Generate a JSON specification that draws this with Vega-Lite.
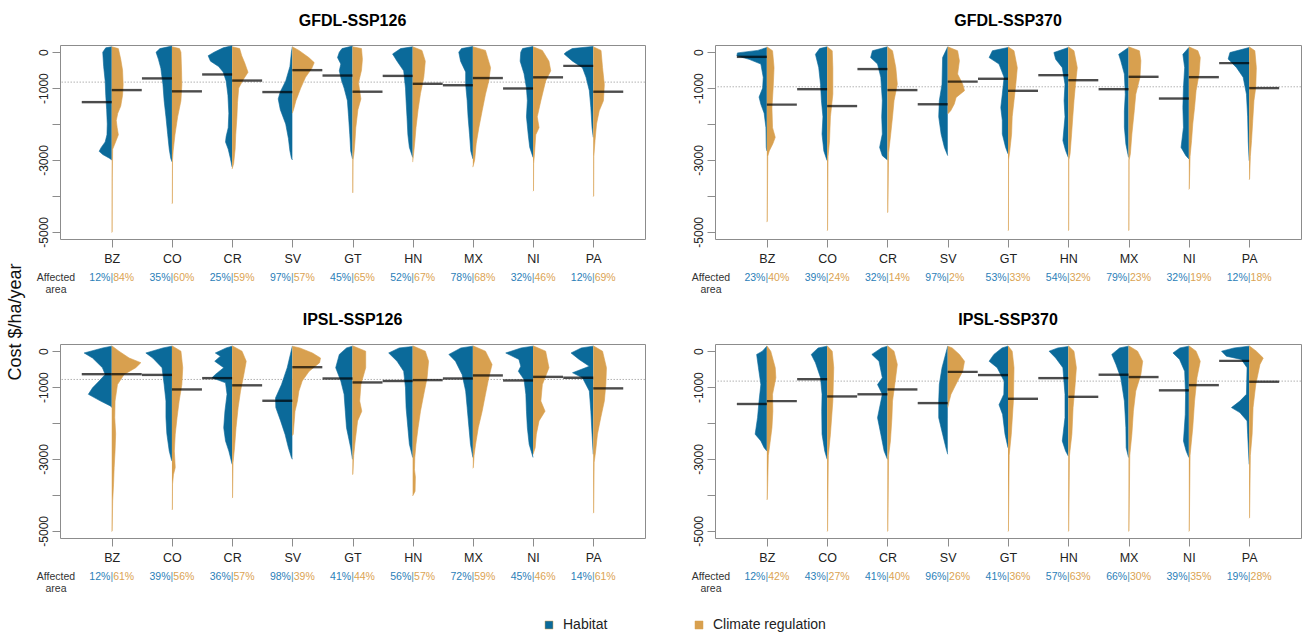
{
"$schema": "https://vega.github.io/schema/vega-lite/v6.json",
"padding": {"left": 7, "top": 12, "right": 0, "bottom": 0},
"config": {
 "font": "Liberation Sans",
 "view": {"stroke": "#8c8c8c", "strokeWidth": 1},
 "axis": {"grid": false, "domain": false},
 "axisX": {"labelFontSize": 12.5, "labelColor": "#222", "ticks": true, "tickSize": 8, "tickColor": "#8c8c8c", "labelPadding": 5, "labelAngle": 0},
 "axisY": {"labelFontSize": 12, "labelColor": "#222", "tickSize": 8, "tickColor": "#8c8c8c", "labelOverlap": false},
 "title": {"fontSize": 16, "fontWeight": "bold", "offset": 16, "color": "#000", "anchor": "middle"}
},
"title": {"text": "Cost $/ha/year", "orient": "left", "anchor": "middle", "fontSize": 18, "fontWeight": "normal", "offset": 11, "color": "#111"},
"datasets": {
"ref": [{"p":"GFDL-SSP126","y":-833},{"p":"GFDL-SSP370","y":-963},{"p":"IPSL-SSP126","y":-787},{"p":"IPSL-SSP370","y":-833}],
"med": [
{"p":"GFDL-SSP126","c":"BZ","h":-1390,"cl":-1055},{"p":"GFDL-SSP126","c":"CO","h":-730,"cl":-1090},{"p":"GFDL-SSP126","c":"CR","h":-620,"cl":-790},{"p":"GFDL-SSP126","c":"SV","h":-1110,"cl":-500},{"p":"GFDL-SSP126","c":"GT","h":-650,"cl":-1100},{"p":"GFDL-SSP126","c":"HN","h":-660,"cl":-880},{"p":"GFDL-SSP126","c":"MX","h":-920,"cl":-720},{"p":"GFDL-SSP126","c":"NI","h":-1010,"cl":-700},{"p":"GFDL-SSP126","c":"PA","h":-380,"cl":-1100},
{"p":"GFDL-SSP370","c":"BZ","h":-130,"cl":-1460},{"p":"GFDL-SSP370","c":"CO","h":-1030,"cl":-1500},{"p":"GFDL-SSP370","c":"CR","h":-470,"cl":-1055},{"p":"GFDL-SSP370","c":"SV","h":-1450,"cl":-820},{"p":"GFDL-SSP370","c":"GT","h":-740,"cl":-1075},{"p":"GFDL-SSP370","c":"HN","h":-640,"cl":-780},{"p":"GFDL-SSP370","c":"MX","h":-1030,"cl":-685},{"p":"GFDL-SSP370","c":"NI","h":-1290,"cl":-695},{"p":"GFDL-SSP370","c":"PA","h":-305,"cl":-1000},
{"p":"IPSL-SSP126","c":"BZ","h":-640,"cl":-640},{"p":"IPSL-SSP126","c":"CO","h":-660,"cl":-1065},{"p":"IPSL-SSP126","c":"CR","h":-750,"cl":-950},{"p":"IPSL-SSP126","c":"SV","h":-1380,"cl":-445},{"p":"IPSL-SSP126","c":"GT","h":-760,"cl":-870},{"p":"IPSL-SSP126","c":"HN","h":-830,"cl":-805},{"p":"IPSL-SSP126","c":"MX","h":-760,"cl":-675},{"p":"IPSL-SSP126","c":"NI","h":-815,"cl":-715},{"p":"IPSL-SSP126","c":"PA","h":-740,"cl":-1035},
{"p":"IPSL-SSP370","c":"BZ","h":-1470,"cl":-1390},{"p":"IPSL-SSP370","c":"CO","h":-780,"cl":-1260},{"p":"IPSL-SSP370","c":"CR","h":-1200,"cl":-1065},{"p":"IPSL-SSP370","c":"SV","h":-1445,"cl":-575},{"p":"IPSL-SSP370","c":"GT","h":-665,"cl":-1325},{"p":"IPSL-SSP370","c":"HN","h":-750,"cl":-1270},{"p":"IPSL-SSP370","c":"MX","h":-655,"cl":-720},{"p":"IPSL-SSP370","c":"NI","h":-1090,"cl":-945},{"p":"IPSL-SSP370","c":"PA","h":-270,"cl":-850}
],
"aff": [
{"p":"GFDL-SSP126","c":"BZ","h":"12%","cl":"84%"},{"p":"GFDL-SSP126","c":"CO","h":"35%","cl":"60%"},{"p":"GFDL-SSP126","c":"CR","h":"25%","cl":"59%"},{"p":"GFDL-SSP126","c":"SV","h":"97%","cl":"57%"},{"p":"GFDL-SSP126","c":"GT","h":"45%","cl":"65%"},{"p":"GFDL-SSP126","c":"HN","h":"52%","cl":"67%"},{"p":"GFDL-SSP126","c":"MX","h":"78%","cl":"68%"},{"p":"GFDL-SSP126","c":"NI","h":"32%","cl":"46%"},{"p":"GFDL-SSP126","c":"PA","h":"12%","cl":"69%"},
{"p":"GFDL-SSP370","c":"BZ","h":"23%","cl":"40%"},{"p":"GFDL-SSP370","c":"CO","h":"39%","cl":"24%"},{"p":"GFDL-SSP370","c":"CR","h":"32%","cl":"14%"},{"p":"GFDL-SSP370","c":"SV","h":"97%","cl":"2%"},{"p":"GFDL-SSP370","c":"GT","h":"53%","cl":"33%"},{"p":"GFDL-SSP370","c":"HN","h":"54%","cl":"32%"},{"p":"GFDL-SSP370","c":"MX","h":"79%","cl":"23%"},{"p":"GFDL-SSP370","c":"NI","h":"32%","cl":"19%"},{"p":"GFDL-SSP370","c":"PA","h":"12%","cl":"18%"},
{"p":"IPSL-SSP126","c":"BZ","h":"12%","cl":"61%"},{"p":"IPSL-SSP126","c":"CO","h":"39%","cl":"56%"},{"p":"IPSL-SSP126","c":"CR","h":"36%","cl":"57%"},{"p":"IPSL-SSP126","c":"SV","h":"98%","cl":"39%"},{"p":"IPSL-SSP126","c":"GT","h":"41%","cl":"44%"},{"p":"IPSL-SSP126","c":"HN","h":"56%","cl":"57%"},{"p":"IPSL-SSP126","c":"MX","h":"72%","cl":"59%"},{"p":"IPSL-SSP126","c":"NI","h":"45%","cl":"46%"},{"p":"IPSL-SSP126","c":"PA","h":"14%","cl":"61%"},
{"p":"IPSL-SSP370","c":"BZ","h":"12%","cl":"42%"},{"p":"IPSL-SSP370","c":"CO","h":"43%","cl":"27%"},{"p":"IPSL-SSP370","c":"CR","h":"41%","cl":"40%"},{"p":"IPSL-SSP370","c":"SV","h":"96%","cl":"26%"},{"p":"IPSL-SSP370","c":"GT","h":"41%","cl":"36%"},{"p":"IPSL-SSP370","c":"HN","h":"57%","cl":"63%"},{"p":"IPSL-SSP370","c":"MX","h":"66%","cl":"30%"},{"p":"IPSL-SSP370","c":"NI","h":"39%","cl":"35%"},{"p":"IPSL-SSP370","c":"PA","h":"19%","cl":"28%"}
],
"g126h": [
{"c":"BZ","y":150,"w":0},{"c":"BZ","y":120,"w":0.2},{"c":"BZ","y":0,"w":0.3},{"c":"BZ","y":-400,"w":0.27},{"c":"BZ","y":-800,"w":0.22},{"c":"BZ","y":-1200,"w":0.2},{"c":"BZ","y":-1600,"w":0.17},{"c":"BZ","y":-2000,"w":0.15},{"c":"BZ","y":-2300,"w":0.16},{"c":"BZ","y":-2500,"w":0.22},{"c":"BZ","y":-2650,"w":0.35},{"c":"BZ","y":-2760,"w":0.42},{"c":"BZ","y":-2850,"w":0.3},{"c":"BZ","y":-2950,"w":0.08},{"c":"BZ","y":-3000,"w":0},
{"c":"CO","y":170,"w":0},{"c":"CO","y":100,"w":0.4},{"c":"CO","y":0,"w":0.53},{"c":"CO","y":-200,"w":0.45},{"c":"CO","y":-450,"w":0.37},{"c":"CO","y":-900,"w":0.3},{"c":"CO","y":-1350,"w":0.26},{"c":"CO","y":-1800,"w":0.2},{"c":"CO","y":-2300,"w":0.14},{"c":"CO","y":-2700,"w":0.09},{"c":"CO","y":-2950,"w":0.04},{"c":"CO","y":-3050,"w":0},
{"c":"CR","y":180,"w":0},{"c":"CR","y":120,"w":0.3},{"c":"CR","y":0,"w":0.6},{"c":"CR","y":-100,"w":0.8},{"c":"CR","y":-250,"w":0.72},{"c":"CR","y":-400,"w":0.45},{"c":"CR","y":-550,"w":0.3},{"c":"CR","y":-800,"w":0.2},{"c":"CR","y":-1200,"w":0.14},{"c":"CR","y":-1700,"w":0.11},{"c":"CR","y":-2100,"w":0.13},{"c":"CR","y":-2350,"w":0.2},{"c":"CR","y":-2500,"w":0.22},{"c":"CR","y":-2700,"w":0.13},{"c":"CR","y":-2950,"w":0.06},{"c":"CR","y":-3200,"w":0},
{"c":"SV","y":150,"w":0},{"c":"SV","y":0,"w":0.03},{"c":"SV","y":-400,"w":0.08},{"c":"SV","y":-800,"w":0.22},{"c":"SV","y":-1100,"w":0.4},{"c":"SV","y":-1300,"w":0.47},{"c":"SV","y":-1600,"w":0.4},{"c":"SV","y":-2000,"w":0.22},{"c":"SV","y":-2400,"w":0.13},{"c":"SV","y":-2750,"w":0.08},{"c":"SV","y":-2950,"w":0.03},{"c":"SV","y":-3000,"w":0},
{"c":"GT","y":170,"w":0},{"c":"GT","y":100,"w":0.35},{"c":"GT","y":0,"w":0.44},{"c":"GT","y":-150,"w":0.5},{"c":"GT","y":-330,"w":0.39},{"c":"GT","y":-520,"w":0.44},{"c":"GT","y":-800,"w":0.36},{"c":"GT","y":-1000,"w":0.28},{"c":"GT","y":-1350,"w":0.17},{"c":"GT","y":-1800,"w":0.13},{"c":"GT","y":-2300,"w":0.09},{"c":"GT","y":-2750,"w":0.06},{"c":"GT","y":-2970,"w":0},
{"c":"HN","y":150,"w":0},{"c":"HN","y":100,"w":0.4},{"c":"HN","y":-50,"w":0.67},{"c":"HN","y":-250,"w":0.52},{"c":"HN","y":-520,"w":0.3},{"c":"HN","y":-1000,"w":0.24},{"c":"HN","y":-1350,"w":0.22},{"c":"HN","y":-1800,"w":0.19},{"c":"HN","y":-2300,"w":0.16},{"c":"HN","y":-2650,"w":0.11},{"c":"HN","y":-2930,"w":0},
{"c":"MX","y":160,"w":0},{"c":"MX","y":100,"w":0.38},{"c":"MX","y":0,"w":0.47},{"c":"MX","y":-250,"w":0.41},{"c":"MX","y":-550,"w":0.24},{"c":"MX","y":-900,"w":0.24},{"c":"MX","y":-1350,"w":0.19},{"c":"MX","y":-1800,"w":0.16},{"c":"MX","y":-2300,"w":0.11},{"c":"MX","y":-2750,"w":0.07},{"c":"MX","y":-2970,"w":0},
{"c":"NI","y":160,"w":0},{"c":"NI","y":100,"w":0.35},{"c":"NI","y":0,"w":0.41},{"c":"NI","y":-250,"w":0.43},{"c":"NI","y":-600,"w":0.3},{"c":"NI","y":-1000,"w":0.22},{"c":"NI","y":-1350,"w":0.19},{"c":"NI","y":-1800,"w":0.22},{"c":"NI","y":-2300,"w":0.16},{"c":"NI","y":-2650,"w":0.11},{"c":"NI","y":-2930,"w":0},
{"c":"PA","y":160,"w":0},{"c":"PA","y":100,"w":0.7},{"c":"PA","y":0,"w":0.91},{"c":"PA","y":-50,"w":0.97},{"c":"PA","y":-250,"w":0.69},{"c":"PA","y":-430,"w":0.36},{"c":"PA","y":-700,"w":0.24},{"c":"PA","y":-1070,"w":0.13},{"c":"PA","y":-1540,"w":0.08},{"c":"PA","y":-2100,"w":0.04},{"c":"PA","y":-2370,"w":0}
],
"g126c": [
{"c":"BZ","y":150,"w":0},{"c":"BZ","y":100,"w":0.22},{"c":"BZ","y":-200,"w":0.3},{"c":"BZ","y":-500,"w":0.36},{"c":"BZ","y":-900,"w":0.38},{"c":"BZ","y":-1200,"w":0.36},{"c":"BZ","y":-1500,"w":0.3},{"c":"BZ","y":-1700,"w":0.2},{"c":"BZ","y":-1900,"w":0.15},{"c":"BZ","y":-2100,"w":0.18},{"c":"BZ","y":-2300,"w":0.22},{"c":"BZ","y":-2450,"w":0.15},{"c":"BZ","y":-2600,"w":0.08},{"c":"BZ","y":-2700,"w":0.03},{"c":"BZ","y":-3500,"w":0.02},{"c":"BZ","y":-5000,"w":0.015},{"c":"BZ","y":-5020,"w":0},
{"c":"CO","y":150,"w":0},{"c":"CO","y":100,"w":0.25},{"c":"CO","y":0,"w":0.3},{"c":"CO","y":-500,"w":0.32},{"c":"CO","y":-900,"w":0.33},{"c":"CO","y":-1350,"w":0.3},{"c":"CO","y":-1800,"w":0.19},{"c":"CO","y":-2300,"w":0.1},{"c":"CO","y":-2750,"w":0.04},{"c":"CO","y":-3000,"w":0.02},{"c":"CO","y":-4200,"w":0.015},{"c":"CO","y":-4220,"w":0},
{"c":"CR","y":150,"w":0},{"c":"CR","y":100,"w":0.25},{"c":"CR","y":-100,"w":0.32},{"c":"CR","y":-300,"w":0.42},{"c":"CR","y":-560,"w":0.53},{"c":"CR","y":-750,"w":0.38},{"c":"CR","y":-1000,"w":0.22},{"c":"CR","y":-1400,"w":0.18},{"c":"CR","y":-1800,"w":0.16},{"c":"CR","y":-2300,"w":0.12},{"c":"CR","y":-2700,"w":0.1},{"c":"CR","y":-3100,"w":0.05},{"c":"CR","y":-3250,"w":0},
{"c":"SV","y":150,"w":0},{"c":"SV","y":50,"w":0.22},{"c":"SV","y":-150,"w":0.55},{"c":"SV","y":-290,"w":0.73},{"c":"SV","y":-450,"w":0.65},{"c":"SV","y":-700,"w":0.44},{"c":"SV","y":-1000,"w":0.28},{"c":"SV","y":-1350,"w":0.12},{"c":"SV","y":-1600,"w":0.04},{"c":"SV","y":-1700,"w":0},
{"c":"GT","y":150,"w":0},{"c":"GT","y":100,"w":0.3},{"c":"GT","y":-200,"w":0.33},{"c":"GT","y":-500,"w":0.3},{"c":"GT","y":-850,"w":0.2},{"c":"GT","y":-1300,"w":0.28},{"c":"GT","y":-1600,"w":0.18},{"c":"GT","y":-2100,"w":0.11},{"c":"GT","y":-2500,"w":0.08},{"c":"GT","y":-2800,"w":0.05},{"c":"GT","y":-3000,"w":0.02},{"c":"GT","y":-3900,"w":0.015},{"c":"GT","y":-3920,"w":0},
{"c":"HN","y":150,"w":0},{"c":"HN","y":50,"w":0.31},{"c":"HN","y":-250,"w":0.42},{"c":"HN","y":-700,"w":0.37},{"c":"HN","y":-1150,"w":0.26},{"c":"HN","y":-1600,"w":0.18},{"c":"HN","y":-2100,"w":0.11},{"c":"HN","y":-2500,"w":0.07},{"c":"HN","y":-2750,"w":0.04},{"c":"HN","y":-3060,"w":0},
{"c":"MX","y":150,"w":0},{"c":"MX","y":50,"w":0.42},{"c":"MX","y":-430,"w":0.59},{"c":"MX","y":-800,"w":0.53},{"c":"MX","y":-1170,"w":0.42},{"c":"MX","y":-1630,"w":0.31},{"c":"MX","y":-2100,"w":0.2},{"c":"MX","y":-2550,"w":0.11},{"c":"MX","y":-3000,"w":0.06},{"c":"MX","y":-3200,"w":0},
{"c":"NI","y":150,"w":0},{"c":"NI","y":50,"w":0.31},{"c":"NI","y":-250,"w":0.53},{"c":"NI","y":-520,"w":0.59},{"c":"NI","y":-800,"w":0.42},{"c":"NI","y":-1350,"w":0.26},{"c":"NI","y":-1800,"w":0.14},{"c":"NI","y":-2100,"w":0.2},{"c":"NI","y":-2300,"w":0.09},{"c":"NI","y":-2800,"w":0.05},{"c":"NI","y":-3100,"w":0.02},{"c":"NI","y":-3850,"w":0.015},{"c":"NI","y":-3870,"w":0},
{"c":"PA","y":150,"w":0},{"c":"PA","y":50,"w":0.26},{"c":"PA","y":-430,"w":0.31},{"c":"PA","y":-900,"w":0.37},{"c":"PA","y":-1350,"w":0.34},{"c":"PA","y":-1630,"w":0.2},{"c":"PA","y":-2000,"w":0.11},{"c":"PA","y":-2450,"w":0.06},{"c":"PA","y":-2900,"w":0.02},{"c":"PA","y":-4000,"w":0.015},{"c":"PA","y":-4020,"w":0}
],
"g370h": [
{"c":"BZ","y":130,"w":0},{"c":"BZ","y":50,"w":0.3},{"c":"BZ","y":-20,"w":0.98},{"c":"BZ","y":-100,"w":1.0},{"c":"BZ","y":-200,"w":0.59},{"c":"BZ","y":-330,"w":0.2},{"c":"BZ","y":-700,"w":0.12},{"c":"BZ","y":-1000,"w":0.14},{"c":"BZ","y":-1250,"w":0.26},{"c":"BZ","y":-1450,"w":0.2},{"c":"BZ","y":-1700,"w":0.09},{"c":"BZ","y":-2100,"w":0.03},{"c":"BZ","y":-2650,"w":0.02},{"c":"BZ","y":-2750,"w":0},
{"c":"CO","y":150,"w":0},{"c":"CO","y":100,"w":0.25},{"c":"CO","y":-60,"w":0.39},{"c":"CO","y":-430,"w":0.28},{"c":"CO","y":-900,"w":0.22},{"c":"CO","y":-1350,"w":0.19},{"c":"CO","y":-1800,"w":0.14},{"c":"CO","y":-2280,"w":0.17},{"c":"CO","y":-2750,"w":0.11},{"c":"CO","y":-2950,"w":0.03},{"c":"CO","y":-3020,"w":0},
{"c":"CR","y":150,"w":0},{"c":"CR","y":40,"w":0.5},{"c":"CR","y":-150,"w":0.56},{"c":"CR","y":-330,"w":0.33},{"c":"CR","y":-700,"w":0.22},{"c":"CR","y":-1350,"w":0.17},{"c":"CR","y":-1800,"w":0.19},{"c":"CR","y":-2280,"w":0.17},{"c":"CR","y":-2650,"w":0.26},{"c":"CR","y":-2880,"w":0.17},{"c":"CR","y":-3000,"w":0},
{"c":"SV","y":150,"w":0},{"c":"SV","y":-150,"w":0.17},{"c":"SV","y":-890,"w":0.19},{"c":"SV","y":-1350,"w":0.28},{"c":"SV","y":-1800,"w":0.3},{"c":"SV","y":-2280,"w":0.22},{"c":"SV","y":-2650,"w":0.11},{"c":"SV","y":-2880,"w":0},
{"c":"GT","y":130,"w":0},{"c":"GT","y":40,"w":0.52},{"c":"GT","y":-150,"w":0.63},{"c":"GT","y":-330,"w":0.3},{"c":"GT","y":-700,"w":0.13},{"c":"GT","y":-1170,"w":0.19},{"c":"GT","y":-1540,"w":0.24},{"c":"GT","y":-1900,"w":0.19},{"c":"GT","y":-2280,"w":0.19},{"c":"GT","y":-2650,"w":0.08},{"c":"GT","y":-2830,"w":0},
{"c":"HN","y":130,"w":0},{"c":"HN","y":-10,"w":0.48},{"c":"HN","y":-200,"w":0.42},{"c":"HN","y":-430,"w":0.2},{"c":"HN","y":-890,"w":0.11},{"c":"HN","y":-1350,"w":0.14},{"c":"HN","y":-1800,"w":0.11},{"c":"HN","y":-2460,"w":0.18},{"c":"HN","y":-2740,"w":0.09},{"c":"HN","y":-2930,"w":0},
{"c":"MX","y":130,"w":0},{"c":"MX","y":-60,"w":0.33},{"c":"MX","y":-240,"w":0.26},{"c":"MX","y":-610,"w":0.14},{"c":"MX","y":-1170,"w":0.11},{"c":"MX","y":-1630,"w":0.14},{"c":"MX","y":-2090,"w":0.14},{"c":"MX","y":-2560,"w":0.09},{"c":"MX","y":-2930,"w":0},
{"c":"NI","y":130,"w":0},{"c":"NI","y":-60,"w":0.2},{"c":"NI","y":-430,"w":0.14},{"c":"NI","y":-980,"w":0.18},{"c":"NI","y":-1540,"w":0.2},{"c":"NI","y":-2090,"w":0.18},{"c":"NI","y":-2650,"w":0.26},{"c":"NI","y":-2880,"w":0.1},{"c":"NI","y":-2970,"w":0},
{"c":"PA","y":130,"w":0},{"c":"PA","y":-10,"w":0.64},{"c":"PA","y":-190,"w":0.7},{"c":"PA","y":-430,"w":0.42},{"c":"PA","y":-700,"w":0.2},{"c":"PA","y":-1170,"w":0.09},{"c":"PA","y":-1800,"w":0.05},{"c":"PA","y":-2500,"w":0.03},{"c":"PA","y":-3020,"w":0}
],
"g370c": [
{"c":"BZ","y":150,"w":0},{"c":"BZ","y":40,"w":0.19},{"c":"BZ","y":-430,"w":0.24},{"c":"BZ","y":-1000,"w":0.21},{"c":"BZ","y":-1550,"w":0.17},{"c":"BZ","y":-2100,"w":0.19},{"c":"BZ","y":-2370,"w":0.28},{"c":"BZ","y":-2550,"w":0.2},{"c":"BZ","y":-2750,"w":0.08},{"c":"BZ","y":-2900,"w":0.03},{"c":"BZ","y":-4700,"w":0.015},{"c":"BZ","y":-4730,"w":0},
{"c":"CO","y":150,"w":0},{"c":"CO","y":40,"w":0.17},{"c":"CO","y":-430,"w":0.19},{"c":"CO","y":-1170,"w":0.19},{"c":"CO","y":-1800,"w":0.11},{"c":"CO","y":-2460,"w":0.08},{"c":"CO","y":-2900,"w":0.03},{"c":"CO","y":-4950,"w":0.015},{"c":"CO","y":-4970,"w":0},
{"c":"CR","y":150,"w":0},{"c":"CR","y":40,"w":0.17},{"c":"CR","y":-430,"w":0.28},{"c":"CR","y":-890,"w":0.33},{"c":"CR","y":-1350,"w":0.22},{"c":"CR","y":-1800,"w":0.17},{"c":"CR","y":-2280,"w":0.11},{"c":"CR","y":-2800,"w":0.04},{"c":"CR","y":-4450,"w":0.015},{"c":"CR","y":-4470,"w":0},
{"c":"SV","y":150,"w":0},{"c":"SV","y":40,"w":0.33},{"c":"SV","y":-240,"w":0.39},{"c":"SV","y":-610,"w":0.33},{"c":"SV","y":-890,"w":0.5},{"c":"SV","y":-1070,"w":0.56},{"c":"SV","y":-1260,"w":0.28},{"c":"SV","y":-1440,"w":0.22},{"c":"SV","y":-1630,"w":0.1},{"c":"SV","y":-1720,"w":0},
{"c":"GT","y":150,"w":0},{"c":"GT","y":40,"w":0.2},{"c":"GT","y":-430,"w":0.31},{"c":"GT","y":-890,"w":0.26},{"c":"GT","y":-1350,"w":0.2},{"c":"GT","y":-1800,"w":0.14},{"c":"GT","y":-2280,"w":0.12},{"c":"GT","y":-2740,"w":0.06},{"c":"GT","y":-3000,"w":0.02},{"c":"GT","y":-4950,"w":0.015},{"c":"GT","y":-4970,"w":0},
{"c":"HN","y":150,"w":0},{"c":"HN","y":40,"w":0.19},{"c":"HN","y":-430,"w":0.3},{"c":"HN","y":-890,"w":0.24},{"c":"HN","y":-1350,"w":0.19},{"c":"HN","y":-1800,"w":0.15},{"c":"HN","y":-2280,"w":0.11},{"c":"HN","y":-2830,"w":0.06},{"c":"HN","y":-3000,"w":0.02},{"c":"HN","y":-4950,"w":0.015},{"c":"HN","y":-4970,"w":0},
{"c":"MX","y":150,"w":0},{"c":"MX","y":40,"w":0.36},{"c":"MX","y":-240,"w":0.41},{"c":"MX","y":-700,"w":0.38},{"c":"MX","y":-1170,"w":0.24},{"c":"MX","y":-1630,"w":0.19},{"c":"MX","y":-2280,"w":0.11},{"c":"MX","y":-2830,"w":0.06},{"c":"MX","y":-3000,"w":0.02},{"c":"MX","y":-4950,"w":0.015},{"c":"MX","y":-4970,"w":0},
{"c":"NI","y":150,"w":0},{"c":"NI","y":40,"w":0.3},{"c":"NI","y":-150,"w":0.38},{"c":"NI","y":-610,"w":0.34},{"c":"NI","y":-1070,"w":0.24},{"c":"NI","y":-1540,"w":0.19},{"c":"NI","y":-2000,"w":0.13},{"c":"NI","y":-2460,"w":0.09},{"c":"NI","y":-2900,"w":0.04},{"c":"NI","y":-3800,"w":0.015},{"c":"NI","y":-3820,"w":0},
{"c":"PA","y":150,"w":0},{"c":"PA","y":40,"w":0.19},{"c":"PA","y":-430,"w":0.24},{"c":"PA","y":-980,"w":0.22},{"c":"PA","y":-1350,"w":0.16},{"c":"PA","y":-1900,"w":0.12},{"c":"PA","y":-2460,"w":0.08},{"c":"PA","y":-2900,"w":0.04},{"c":"PA","y":-3530,"w":0.015},{"c":"PA","y":-3550,"w":0}
],
"i126h": [
{"c":"BZ","y":140,"w":0},{"c":"BZ","y":90,"w":0.3},{"c":"BZ","y":-50,"w":0.92},{"c":"BZ","y":-190,"w":0.64},{"c":"BZ","y":-460,"w":0.31},{"c":"BZ","y":-650,"w":0.22},{"c":"BZ","y":-830,"w":0.42},{"c":"BZ","y":-1020,"w":0.64},{"c":"BZ","y":-1200,"w":0.78},{"c":"BZ","y":-1390,"w":0.37},{"c":"BZ","y":-1530,"w":0.03},{"c":"BZ","y":-1570,"w":0},
{"c":"CO","y":140,"w":0},{"c":"CO","y":90,"w":0.3},{"c":"CO","y":-50,"w":0.87},{"c":"CO","y":-190,"w":0.64},{"c":"CO","y":-460,"w":0.33},{"c":"CO","y":-930,"w":0.26},{"c":"CO","y":-1390,"w":0.2},{"c":"CO","y":-1850,"w":0.2},{"c":"CO","y":-2300,"w":0.17},{"c":"CO","y":-2780,"w":0.09},{"c":"CO","y":-3010,"w":0.02},{"c":"CO","y":-3060,"w":0},
{"c":"CR","y":140,"w":0},{"c":"CR","y":90,"w":0.2},{"c":"CR","y":-50,"w":0.56},{"c":"CR","y":-140,"w":0.39},{"c":"CR","y":-280,"w":0.58},{"c":"CR","y":-460,"w":0.28},{"c":"CR","y":-650,"w":0.56},{"c":"CR","y":-740,"w":0.67},{"c":"CR","y":-880,"w":0.22},{"c":"CR","y":-1200,"w":0.17},{"c":"CR","y":-1670,"w":0.24},{"c":"CR","y":-2130,"w":0.28},{"c":"CR","y":-2500,"w":0.22},{"c":"CR","y":-2780,"w":0.11},{"c":"CR","y":-3150,"w":0},
{"c":"SV","y":140,"w":0},{"c":"SV","y":-460,"w":0.17},{"c":"SV","y":-930,"w":0.36},{"c":"SV","y":-1300,"w":0.56},{"c":"SV","y":-1570,"w":0.55},{"c":"SV","y":-1940,"w":0.39},{"c":"SV","y":-2320,"w":0.24},{"c":"SV","y":-2690,"w":0.13},{"c":"SV","y":-2960,"w":0.03},{"c":"SV","y":-3010,"w":0},
{"c":"GT","y":140,"w":0},{"c":"GT","y":90,"w":0.2},{"c":"GT","y":-90,"w":0.44},{"c":"GT","y":-460,"w":0.56},{"c":"GT","y":-830,"w":0.39},{"c":"GT","y":-1200,"w":0.28},{"c":"GT","y":-1670,"w":0.24},{"c":"GT","y":-2130,"w":0.2},{"c":"GT","y":-2690,"w":0.06},{"c":"GT","y":-3010,"w":0},
{"c":"HN","y":130,"w":0},{"c":"HN","y":90,"w":0.45},{"c":"HN","y":-50,"w":0.8},{"c":"HN","y":-280,"w":0.52},{"c":"HN","y":-560,"w":0.3},{"c":"HN","y":-1020,"w":0.24},{"c":"HN","y":-1570,"w":0.22},{"c":"HN","y":-2130,"w":0.16},{"c":"HN","y":-2590,"w":0.11},{"c":"HN","y":-2960,"w":0},
{"c":"MX","y":140,"w":0},{"c":"MX","y":90,"w":0.4},{"c":"MX","y":-90,"w":0.8},{"c":"MX","y":-280,"w":0.58},{"c":"MX","y":-650,"w":0.36},{"c":"MX","y":-1110,"w":0.24},{"c":"MX","y":-1570,"w":0.19},{"c":"MX","y":-2130,"w":0.13},{"c":"MX","y":-2590,"w":0.08},{"c":"MX","y":-2960,"w":0},
{"c":"NI","y":140,"w":0},{"c":"NI","y":90,"w":0.4},{"c":"NI","y":-50,"w":0.91},{"c":"NI","y":-230,"w":0.47},{"c":"NI","y":-420,"w":0.41},{"c":"NI","y":-560,"w":0.49},{"c":"NI","y":-790,"w":0.3},{"c":"NI","y":-1200,"w":0.24},{"c":"NI","y":-1670,"w":0.22},{"c":"NI","y":-2130,"w":0.19},{"c":"NI","y":-2590,"w":0.13},{"c":"NI","y":-2960,"w":0},
{"c":"PA","y":140,"w":0},{"c":"PA","y":90,"w":0.4},{"c":"PA","y":-50,"w":0.74},{"c":"PA","y":-230,"w":0.47},{"c":"PA","y":-420,"w":0.13},{"c":"PA","y":-600,"w":0.69},{"c":"PA","y":-740,"w":0.36},{"c":"PA","y":-1110,"w":0.13},{"c":"PA","y":-1670,"w":0.08},{"c":"PA","y":-2310,"w":0.04},{"c":"PA","y":-2870,"w":0}
],
"i126c": [
{"c":"BZ","y":150,"w":0},{"c":"BZ","y":0,"w":0.24},{"c":"BZ","y":-190,"w":0.58},{"c":"BZ","y":-320,"w":0.97},{"c":"BZ","y":-460,"w":0.8},{"c":"BZ","y":-650,"w":0.41},{"c":"BZ","y":-930,"w":0.19},{"c":"BZ","y":-1390,"w":0.11},{"c":"BZ","y":-1850,"w":0.1},{"c":"BZ","y":-2300,"w":0.13},{"c":"BZ","y":-2780,"w":0.11},{"c":"BZ","y":-3240,"w":0.08},{"c":"BZ","y":-3700,"w":0.06},{"c":"BZ","y":-4170,"w":0.03},{"c":"BZ","y":-5000,"w":0.015},{"c":"BZ","y":-5020,"w":0},
{"c":"CO","y":150,"w":0},{"c":"CO","y":0,"w":0.3},{"c":"CO","y":-460,"w":0.36},{"c":"CO","y":-930,"w":0.33},{"c":"CO","y":-1390,"w":0.24},{"c":"CO","y":-1850,"w":0.17},{"c":"CO","y":-2310,"w":0.11},{"c":"CO","y":-2780,"w":0.08},{"c":"CO","y":-3240,"w":0.11},{"c":"CO","y":-3440,"w":0.05},{"c":"CO","y":-3700,"w":0.02},{"c":"CO","y":-4400,"w":0.015},{"c":"CO","y":-4420,"w":0},
{"c":"CR","y":150,"w":0},{"c":"CR","y":0,"w":0.33},{"c":"CR","y":-280,"w":0.47},{"c":"CR","y":-650,"w":0.39},{"c":"CR","y":-1110,"w":0.28},{"c":"CR","y":-1570,"w":0.2},{"c":"CR","y":-2130,"w":0.13},{"c":"CR","y":-2690,"w":0.08},{"c":"CR","y":-3100,"w":0.03},{"c":"CR","y":-4070,"w":0.015},{"c":"CR","y":-4090,"w":0},
{"c":"SV","y":140,"w":0},{"c":"SV","y":90,"w":0.25},{"c":"SV","y":-50,"w":0.67},{"c":"SV","y":-190,"w":0.94},{"c":"SV","y":-320,"w":0.91},{"c":"SV","y":-560,"w":0.56},{"c":"SV","y":-830,"w":0.33},{"c":"SV","y":-1110,"w":0.22},{"c":"SV","y":-1390,"w":0.17},{"c":"SV","y":-1670,"w":0.09},{"c":"SV","y":-2310,"w":0.03},{"c":"SV","y":-2350,"w":0},
{"c":"GT","y":150,"w":0},{"c":"GT","y":0,"w":0.44},{"c":"GT","y":-460,"w":0.44},{"c":"GT","y":-930,"w":0.28},{"c":"GT","y":-1390,"w":0.24},{"c":"GT","y":-1670,"w":0.31},{"c":"GT","y":-1940,"w":0.17},{"c":"GT","y":-2500,"w":0.09},{"c":"GT","y":-2900,"w":0.04},{"c":"GT","y":-3420,"w":0.015},{"c":"GT","y":-3440,"w":0},
{"c":"HN","y":150,"w":0},{"c":"HN","y":0,"w":0.42},{"c":"HN","y":-280,"w":0.53},{"c":"HN","y":-740,"w":0.48},{"c":"HN","y":-1200,"w":0.37},{"c":"HN","y":-1670,"w":0.26},{"c":"HN","y":-2130,"w":0.18},{"c":"HN","y":-2590,"w":0.11},{"c":"HN","y":-2960,"w":0.07},{"c":"HN","y":-3300,"w":0.06},{"c":"HN","y":-3500,"w":0.09},{"c":"HN","y":-3900,"w":0.08},{"c":"HN","y":-4030,"w":0},
{"c":"MX","y":150,"w":0},{"c":"MX","y":0,"w":0.42},{"c":"MX","y":-370,"w":0.64},{"c":"MX","y":-740,"w":0.53},{"c":"MX","y":-1200,"w":0.42},{"c":"MX","y":-1670,"w":0.31},{"c":"MX","y":-2130,"w":0.18},{"c":"MX","y":-2590,"w":0.09},{"c":"MX","y":-2900,"w":0.04},{"c":"MX","y":-3240,"w":0.015},{"c":"MX","y":-3260,"w":0},
{"c":"NI","y":150,"w":0},{"c":"NI","y":0,"w":0.42},{"c":"NI","y":-460,"w":0.53},{"c":"NI","y":-930,"w":0.31},{"c":"NI","y":-1390,"w":0.26},{"c":"NI","y":-1670,"w":0.4},{"c":"NI","y":-1940,"w":0.2},{"c":"NI","y":-2310,"w":0.11},{"c":"NI","y":-2690,"w":0.07},{"c":"NI","y":-2870,"w":0},
{"c":"PA","y":150,"w":0},{"c":"PA","y":0,"w":0.31},{"c":"PA","y":-460,"w":0.44},{"c":"PA","y":-930,"w":0.42},{"c":"PA","y":-1390,"w":0.37},{"c":"PA","y":-1850,"w":0.25},{"c":"PA","y":-2310,"w":0.14},{"c":"PA","y":-2780,"w":0.08},{"c":"PA","y":-3100,"w":0.03},{"c":"PA","y":-4490,"w":0.015},{"c":"PA","y":-4510,"w":0}
],
"i370h": [
{"c":"BZ","y":140,"w":0},{"c":"BZ","y":0,"w":0.15},{"c":"BZ","y":-90,"w":0.34},{"c":"BZ","y":-460,"w":0.28},{"c":"BZ","y":-930,"w":0.2},{"c":"BZ","y":-1390,"w":0.26},{"c":"BZ","y":-1850,"w":0.31},{"c":"BZ","y":-2310,"w":0.39},{"c":"BZ","y":-2500,"w":0.2},{"c":"BZ","y":-2690,"w":0.09},{"c":"BZ","y":-2780,"w":0},
{"c":"CO","y":140,"w":0},{"c":"CO","y":90,"w":0.3},{"c":"CO","y":-90,"w":0.53},{"c":"CO","y":-320,"w":0.39},{"c":"CO","y":-740,"w":0.22},{"c":"CO","y":-1200,"w":0.17},{"c":"CO","y":-1670,"w":0.18},{"c":"CO","y":-2310,"w":0.17},{"c":"CO","y":-2780,"w":0.08},{"c":"CO","y":-3010,"w":0},
{"c":"CR","y":140,"w":0},{"c":"CR","y":90,"w":0.2},{"c":"CR","y":-90,"w":0.52},{"c":"CR","y":-280,"w":0.28},{"c":"CR","y":-740,"w":0.17},{"c":"CR","y":-930,"w":0.33},{"c":"CR","y":-1200,"w":0.17},{"c":"CR","y":-1850,"w":0.33},{"c":"CR","y":-2310,"w":0.22},{"c":"CR","y":-2780,"w":0.11},{"c":"CR","y":-3010,"w":0},
{"c":"SV","y":140,"w":0},{"c":"SV","y":-460,"w":0.19},{"c":"SV","y":-930,"w":0.28},{"c":"SV","y":-1390,"w":0.3},{"c":"SV","y":-1850,"w":0.3},{"c":"SV","y":-2310,"w":0.17},{"c":"SV","y":-2690,"w":0.06},{"c":"SV","y":-2870,"w":0},
{"c":"GT","y":140,"w":0},{"c":"GT","y":90,"w":0.2},{"c":"GT","y":-90,"w":0.47},{"c":"GT","y":-280,"w":0.63},{"c":"GT","y":-460,"w":0.36},{"c":"GT","y":-830,"w":0.13},{"c":"GT","y":-1200,"w":0.14},{"c":"GT","y":-1490,"w":0.3},{"c":"GT","y":-1760,"w":0.18},{"c":"GT","y":-2310,"w":0.1},{"c":"GT","y":-2690,"w":0},
{"c":"HN","y":130,"w":0},{"c":"HN","y":90,"w":0.35},{"c":"HN","y":0,"w":0.64},{"c":"HN","y":-190,"w":0.42},{"c":"HN","y":-460,"w":0.18},{"c":"HN","y":-1200,"w":0.11},{"c":"HN","y":-1850,"w":0.11},{"c":"HN","y":-2500,"w":0.2},{"c":"HN","y":-2780,"w":0.09},{"c":"HN","y":-2920,"w":0},
{"c":"MX","y":140,"w":0},{"c":"MX","y":90,"w":0.3},{"c":"MX","y":-90,"w":0.56},{"c":"MX","y":-370,"w":0.42},{"c":"MX","y":-740,"w":0.26},{"c":"MX","y":-1390,"w":0.14},{"c":"MX","y":-2130,"w":0.09},{"c":"MX","y":-2690,"w":0.08},{"c":"MX","y":-2960,"w":0},
{"c":"NI","y":140,"w":0},{"c":"NI","y":90,"w":0.3},{"c":"NI","y":-50,"w":0.53},{"c":"NI","y":-230,"w":0.31},{"c":"NI","y":-560,"w":0.14},{"c":"NI","y":-1200,"w":0.11},{"c":"NI","y":-1760,"w":0.12},{"c":"NI","y":-2500,"w":0.18},{"c":"NI","y":-2780,"w":0.09},{"c":"NI","y":-2960,"w":0},
{"c":"PA","y":140,"w":0},{"c":"PA","y":90,"w":0.5},{"c":"PA","y":0,"w":0.92},{"c":"PA","y":-140,"w":0.76},{"c":"PA","y":-230,"w":0.26},{"c":"PA","y":-460,"w":0.07},{"c":"PA","y":-1200,"w":0.09},{"c":"PA","y":-1390,"w":0.31},{"c":"PA","y":-1570,"w":0.59},{"c":"PA","y":-1710,"w":0.31},{"c":"PA","y":-1940,"w":0.07},{"c":"PA","y":-2310,"w":0.05},{"c":"PA","y":-3150,"w":0}
],
"i370c": [
{"c":"BZ","y":150,"w":0},{"c":"BZ","y":0,"w":0.13},{"c":"BZ","y":-460,"w":0.28},{"c":"BZ","y":-740,"w":0.3},{"c":"BZ","y":-1200,"w":0.19},{"c":"BZ","y":-1670,"w":0.2},{"c":"BZ","y":-2130,"w":0.17},{"c":"BZ","y":-2590,"w":0.1},{"c":"BZ","y":-2900,"w":0.05},{"c":"BZ","y":-4120,"w":0.015},{"c":"BZ","y":-4140,"w":0},
{"c":"CO","y":150,"w":0},{"c":"CO","y":0,"w":0.17},{"c":"CO","y":-460,"w":0.22},{"c":"CO","y":-1390,"w":0.19},{"c":"CO","y":-2310,"w":0.11},{"c":"CO","y":-2900,"w":0.04},{"c":"CO","y":-5000,"w":0.015},{"c":"CO","y":-5020,"w":0},
{"c":"CR","y":150,"w":0},{"c":"CR","y":0,"w":0.22},{"c":"CR","y":-370,"w":0.33},{"c":"CR","y":-830,"w":0.26},{"c":"CR","y":-1390,"w":0.17},{"c":"CR","y":-1850,"w":0.15},{"c":"CR","y":-2500,"w":0.1},{"c":"CR","y":-2900,"w":0.04},{"c":"CR","y":-5000,"w":0.015},{"c":"CR","y":-5020,"w":0},
{"c":"SV","y":140,"w":0},{"c":"SV","y":90,"w":0.15},{"c":"SV","y":-90,"w":0.39},{"c":"SV","y":-280,"w":0.56},{"c":"SV","y":-560,"w":0.5},{"c":"SV","y":-830,"w":0.33},{"c":"SV","y":-1200,"w":0.11},{"c":"SV","y":-1390,"w":0.05},{"c":"SV","y":-1570,"w":0},
{"c":"GT","y":150,"w":0},{"c":"GT","y":0,"w":0.14},{"c":"GT","y":-460,"w":0.2},{"c":"GT","y":-1390,"w":0.18},{"c":"GT","y":-2310,"w":0.11},{"c":"GT","y":-2900,"w":0.04},{"c":"GT","y":-5000,"w":0.015},{"c":"GT","y":-5020,"w":0},
{"c":"HN","y":150,"w":0},{"c":"HN","y":0,"w":0.19},{"c":"HN","y":-460,"w":0.27},{"c":"HN","y":-1020,"w":0.22},{"c":"HN","y":-1570,"w":0.16},{"c":"HN","y":-2310,"w":0.12},{"c":"HN","y":-2900,"w":0.04},{"c":"HN","y":-5000,"w":0.015},{"c":"HN","y":-5020,"w":0},
{"c":"MX","y":150,"w":0},{"c":"MX","y":0,"w":0.3},{"c":"MX","y":-280,"w":0.47},{"c":"MX","y":-650,"w":0.41},{"c":"MX","y":-1110,"w":0.24},{"c":"MX","y":-1670,"w":0.16},{"c":"MX","y":-2310,"w":0.11},{"c":"MX","y":-2900,"w":0.04},{"c":"MX","y":-5000,"w":0.015},{"c":"MX","y":-5020,"w":0},
{"c":"NI","y":150,"w":0},{"c":"NI","y":0,"w":0.24},{"c":"NI","y":-280,"w":0.38},{"c":"NI","y":-740,"w":0.27},{"c":"NI","y":-1390,"w":0.19},{"c":"NI","y":-2130,"w":0.13},{"c":"NI","y":-2900,"w":0.04},{"c":"NI","y":-5000,"w":0.015},{"c":"NI","y":-5020,"w":0},
{"c":"PA","y":150,"w":0},{"c":"PA","y":0,"w":0.24},{"c":"PA","y":-190,"w":0.47},{"c":"PA","y":-370,"w":0.36},{"c":"PA","y":-930,"w":0.22},{"c":"PA","y":-1570,"w":0.13},{"c":"PA","y":-2310,"w":0.1},{"c":"PA","y":-2900,"w":0.04},{"c":"PA","y":-4630,"w":0.015},{"c":"PA","y":-4650,"w":0}
]
},
"columns": 2,
"spacing": {"row": 30, "column": 70},
"bounds": "flush",
"align": "each",
"resolve": {"scale": {"xOffset": "independent"}},
"concat": [
{
 "width": 585, "height": 194,
 "title": {"text": "GFDL-SSP126"},
 "layer": [
  {"data": {"name": "ref"}, "transform": [{"filter": "datum.p == 'GFDL-SSP126'"}],
   "mark": {"type": "rule", "color": "#a0a0a0", "strokeWidth": 0.8, "strokeDash": [1.5, 1.5]},
   "encoding": {"y": {"field": "y", "type": "quantitative", "title": null, "scale": {"domain": [-5200, 200], "nice": false, "zero": false},
     "axis": {"orient": "left", "values": [0, -1000, -3000, -5000], "labelExpr": "'' + datum.value", "labelOverlap": false, "labelAngle": 270, "labelAlign": "center", "labelBaseline": "alphabetic", "labelPadding": 4.5, "title": null}}}},
  {"data": {"name": "g126h"}, "mark": {"type": "line", "stroke": "#0b6a9a", "strokeWidth": 0.6},
   "encoding": {"x": {"field": "c", "type": "nominal", "title": null, "sort": null, "scale": {"type": "point", "padding": 0.86, "domain": ["BZ","CO","CR","SV","GT","HN","MX","NI","PA"]}, "axis": {"ticks": true, "tickSize": 8, "tickColor": "#8c8c8c", "labelPadding": 5, "labelFontSize": 12.5, "labelColor": "#222", "labelAngle": 0, "labelBaseline": "top", "title": null}},
     "xOffset": {"field": "w", "type": "quantitative", "scale": {"domain": [0, 1], "range": [0, -30]}},
     "y": {"field": "y", "type": "quantitative", "title": null, "axis": {"orient": "left", "values": [-2000, -4000], "labels": false, "title": null, "tickSize": 8}},
     "order": {"field": "y", "type": "quantitative"},
     "detail": {"field": "c", "type": "nominal"},
     "fill": {"datum": "Habitat", "type": "nominal", "scale": {"domain": ["Habitat", "Climate regulation"], "range": ["#0b6a9a", "#d8a04f"]},
       "legend": {"orient": "none", "direction": "horizontal", "legendX": 482, "legendY": 573, "title": null, "symbolType": "square", "symbolSize": 64, "symbolStrokeColor": "#555", "symbolStrokeWidth": 0.5, "labelFontSize": 14, "labelColor": "#222", "columnPadding": 84, "labelOffset": 7}}}},
  {"data": {"name": "g126c"}, "mark": {"type": "line", "stroke": "#d8a04f", "strokeWidth": 0.6},
   "encoding": {"x": {"field": "c", "type": "nominal", "title": null, "sort": null, "scale": {"type": "point", "padding": 0.86, "domain": ["BZ","CO","CR","SV","GT","HN","MX","NI","PA"]}, "axis": {"ticks": true, "tickSize": 8, "tickColor": "#8c8c8c", "labelPadding": 5, "labelFontSize": 12.5, "labelColor": "#222", "labelAngle": 0, "labelBaseline": "top", "title": null}},
     "xOffset": {"field": "w", "type": "quantitative", "scale": {"domain": [0, 1], "range": [0, 30]}},
     "y": {"field": "y", "type": "quantitative", "title": null, "axis": null},
     "order": {"field": "y", "type": "quantitative"},
     "detail": {"field": "c", "type": "nominal"},
     "fill": {"datum": "Climate regulation", "type": "nominal"}}},
  {"data": {"name": "med"}, "transform": [{"filter": "datum.p == 'GFDL-SSP126'"}],
   "mark": {"type": "tick", "color": "#000", "size": 30, "thickness": 2.4, "xOffset": -15},
   "encoding": {"x": {"field": "c", "type": "nominal", "title": null, "sort": null, "axis": {"ticks": true, "tickSize": 8, "tickColor": "#8c8c8c", "labelPadding": 5, "labelFontSize": 12.5, "labelColor": "#222", "labelAngle": 0, "labelBaseline": "top", "title": null}}, "y": {"field": "h", "type": "quantitative", "title": null, "axis": null}}},
  {"data": {"name": "med"}, "transform": [{"filter": "datum.p == 'GFDL-SSP126'"}],
   "mark": {"type": "tick", "color": "#000", "size": 30, "thickness": 2.4, "xOffset": 15},
   "encoding": {"x": {"field": "c", "type": "nominal", "title": null, "sort": null, "axis": {"ticks": true, "tickSize": 8, "tickColor": "#8c8c8c", "labelPadding": 5, "labelFontSize": 12.5, "labelColor": "#222", "labelAngle": 0, "labelBaseline": "top", "title": null}}, "y": {"field": "cl", "type": "quantitative", "title": null, "axis": null}}}
 ],
 "resolve": {"scale": {"xOffset": "independent"}, "axis": {"y": "independent"}}
},
{
 "width": 586, "height": 194,
 "title": {"text": "GFDL-SSP370"},
 "layer": [
  {"data": {"name": "ref"}, "transform": [{"filter": "datum.p == 'GFDL-SSP370'"}],
   "mark": {"type": "rule", "color": "#a0a0a0", "strokeWidth": 0.8, "strokeDash": [1.5, 1.5]},
   "encoding": {"y": {"field": "y", "type": "quantitative", "title": null, "scale": {"domain": [-5200, 200], "nice": false, "zero": false},
     "axis": {"orient": "left", "values": [0, -1000, -3000, -5000], "labelExpr": "'' + datum.value", "labelOverlap": false, "labelAngle": 270, "labelAlign": "center", "labelBaseline": "alphabetic", "labelPadding": 4.5, "title": null}}}},
  {"data": {"name": "g370h"}, "mark": {"type": "line", "stroke": "#0b6a9a", "strokeWidth": 0.6},
   "encoding": {"x": {"field": "c", "type": "nominal", "title": null, "sort": null, "scale": {"type": "point", "padding": 0.86, "domain": ["BZ","CO","CR","SV","GT","HN","MX","NI","PA"]}, "axis": {"ticks": true, "tickSize": 8, "tickColor": "#8c8c8c", "labelPadding": 5, "labelFontSize": 12.5, "labelColor": "#222", "labelAngle": 0, "labelBaseline": "top", "title": null}},
     "xOffset": {"field": "w", "type": "quantitative", "scale": {"domain": [0, 1], "range": [0, -30]}},
     "y": {"field": "y", "type": "quantitative", "title": null, "axis": {"orient": "left", "values": [-2000, -4000], "labels": false, "title": null, "tickSize": 8}},
     "order": {"field": "y", "type": "quantitative"},
     "detail": {"field": "c", "type": "nominal"},
     "fill": {"datum": "Habitat", "type": "nominal"}}},
  {"data": {"name": "g370c"}, "mark": {"type": "line", "stroke": "#d8a04f", "strokeWidth": 0.6},
   "encoding": {"x": {"field": "c", "type": "nominal", "title": null, "sort": null, "scale": {"type": "point", "padding": 0.86, "domain": ["BZ","CO","CR","SV","GT","HN","MX","NI","PA"]}, "axis": {"ticks": true, "tickSize": 8, "tickColor": "#8c8c8c", "labelPadding": 5, "labelFontSize": 12.5, "labelColor": "#222", "labelAngle": 0, "labelBaseline": "top", "title": null}},
     "xOffset": {"field": "w", "type": "quantitative", "scale": {"domain": [0, 1], "range": [0, 30]}},
     "y": {"field": "y", "type": "quantitative", "title": null, "axis": null},
     "order": {"field": "y", "type": "quantitative"},
     "detail": {"field": "c", "type": "nominal"},
     "fill": {"datum": "Climate regulation", "type": "nominal"}}},
  {"data": {"name": "med"}, "transform": [{"filter": "datum.p == 'GFDL-SSP370'"}],
   "mark": {"type": "tick", "color": "#000", "size": 30, "thickness": 2.4, "xOffset": -15},
   "encoding": {"x": {"field": "c", "type": "nominal", "title": null, "sort": null, "axis": {"ticks": true, "tickSize": 8, "tickColor": "#8c8c8c", "labelPadding": 5, "labelFontSize": 12.5, "labelColor": "#222", "labelAngle": 0, "labelBaseline": "top", "title": null}}, "y": {"field": "h", "type": "quantitative", "title": null, "axis": null}}},
  {"data": {"name": "med"}, "transform": [{"filter": "datum.p == 'GFDL-SSP370'"}],
   "mark": {"type": "tick", "color": "#000", "size": 30, "thickness": 2.4, "xOffset": 15},
   "encoding": {"x": {"field": "c", "type": "nominal", "title": null, "sort": null, "axis": {"ticks": true, "tickSize": 8, "tickColor": "#8c8c8c", "labelPadding": 5, "labelFontSize": 12.5, "labelColor": "#222", "labelAngle": 0, "labelBaseline": "top", "title": null}}, "y": {"field": "cl", "type": "quantitative", "title": null, "axis": null}}}
 ],
 "resolve": {"scale": {"xOffset": "independent"}, "axis": {"y": "independent"}}
},
{
 "width": 585, "height": 45, "view": {"stroke": null},
 "data": {"name": "aff"}, "transform": [{"filter": "datum.p == 'GFDL-SSP126'"}],
 "encoding": {"x": {"field": "c", "type": "nominal", "title": null, "sort": null, "axis": null, "scale": {"type": "point", "padding": 0.86, "domain": ["BZ","CO","CR","SV","GT","HN","MX","NI","PA"]}},
  "y": {"datum": "Affected area", "type": "nominal", "scale": {"type": "point", "padding": 0, "align": 0.193},
   "axis": {"title": null, "domain": false, "ticks": false, "tickSize": 0, "labelExpr": "split(datum.label, ' ')", "labelAlign": "center", "labelBaseline": "middle", "labelAngle": 0, "labelPadding": 4.5, "labelFontSize": 10.5, "labelColor": "#333", "labelLineHeight": 12}}},
 "layer": [
  {"mark": {"type": "text", "align": "right", "dx": -1.4, "fontSize": 10.5, "color": "#2b80b8"}, "encoding": {"text": {"field": "h"}}},
  {"mark": {"type": "text", "align": "center", "fontSize": 10.5, "color": "#5b8fb3", "text": "|"}},
  {"mark": {"type": "text", "align": "left", "dx": 1.4, "fontSize": 10.5, "color": "#dba352"}, "encoding": {"text": {"field": "cl"}}}
 ]
},
{
 "width": 586, "height": 45, "view": {"stroke": null},
 "data": {"name": "aff"}, "transform": [{"filter": "datum.p == 'GFDL-SSP370'"}],
 "encoding": {"x": {"field": "c", "type": "nominal", "title": null, "sort": null, "axis": null, "scale": {"type": "point", "padding": 0.86, "domain": ["BZ","CO","CR","SV","GT","HN","MX","NI","PA"]}},
  "y": {"datum": "Affected area", "type": "nominal", "scale": {"type": "point", "padding": 0, "align": 0.193},
   "axis": {"title": null, "domain": false, "ticks": false, "tickSize": 0, "labelExpr": "split(datum.label, ' ')", "labelAlign": "center", "labelBaseline": "middle", "labelAngle": 0, "labelPadding": 4.5, "labelFontSize": 10.5, "labelColor": "#333", "labelLineHeight": 12}}},
 "layer": [
  {"mark": {"type": "text", "align": "right", "dx": -1.4, "fontSize": 10.5, "color": "#2b80b8"}, "encoding": {"text": {"field": "h"}}},
  {"mark": {"type": "text", "align": "center", "fontSize": 10.5, "color": "#5b8fb3", "text": "|"}},
  {"mark": {"type": "text", "align": "left", "dx": 1.4, "fontSize": 10.5, "color": "#dba352"}, "encoding": {"text": {"field": "cl"}}}
 ]
},
{
 "width": 585, "height": 194,
 "title": {"text": "IPSL-SSP126"},
 "layer": [
  {"data": {"name": "ref"}, "transform": [{"filter": "datum.p == 'IPSL-SSP126'"}],
   "mark": {"type": "rule", "color": "#a0a0a0", "strokeWidth": 0.8, "strokeDash": [1.5, 1.5]},
   "encoding": {"y": {"field": "y", "type": "quantitative", "title": null, "scale": {"domain": [-5200, 200], "nice": false, "zero": false},
     "axis": {"orient": "left", "values": [0, -1000, -3000, -5000], "labelExpr": "'' + datum.value", "labelOverlap": false, "labelAngle": 270, "labelAlign": "center", "labelBaseline": "alphabetic", "labelPadding": 4.5, "title": null}}}},
  {"data": {"name": "i126h"}, "mark": {"type": "line", "stroke": "#0b6a9a", "strokeWidth": 0.6},
   "encoding": {"x": {"field": "c", "type": "nominal", "title": null, "sort": null, "scale": {"type": "point", "padding": 0.86, "domain": ["BZ","CO","CR","SV","GT","HN","MX","NI","PA"]}, "axis": {"ticks": true, "tickSize": 8, "tickColor": "#8c8c8c", "labelPadding": 5, "labelFontSize": 12.5, "labelColor": "#222", "labelAngle": 0, "labelBaseline": "top", "title": null}},
     "xOffset": {"field": "w", "type": "quantitative", "scale": {"domain": [0, 1], "range": [0, -30]}},
     "y": {"field": "y", "type": "quantitative", "title": null, "axis": {"orient": "left", "values": [-2000, -4000], "labels": false, "title": null, "tickSize": 8}},
     "order": {"field": "y", "type": "quantitative"},
     "detail": {"field": "c", "type": "nominal"},
     "fill": {"datum": "Habitat", "type": "nominal"}}},
  {"data": {"name": "i126c"}, "mark": {"type": "line", "stroke": "#d8a04f", "strokeWidth": 0.6},
   "encoding": {"x": {"field": "c", "type": "nominal", "title": null, "sort": null, "scale": {"type": "point", "padding": 0.86, "domain": ["BZ","CO","CR","SV","GT","HN","MX","NI","PA"]}, "axis": {"ticks": true, "tickSize": 8, "tickColor": "#8c8c8c", "labelPadding": 5, "labelFontSize": 12.5, "labelColor": "#222", "labelAngle": 0, "labelBaseline": "top", "title": null}},
     "xOffset": {"field": "w", "type": "quantitative", "scale": {"domain": [0, 1], "range": [0, 30]}},
     "y": {"field": "y", "type": "quantitative", "title": null, "axis": null},
     "order": {"field": "y", "type": "quantitative"},
     "detail": {"field": "c", "type": "nominal"},
     "fill": {"datum": "Climate regulation", "type": "nominal"}}},
  {"data": {"name": "med"}, "transform": [{"filter": "datum.p == 'IPSL-SSP126'"}],
   "mark": {"type": "tick", "color": "#000", "size": 30, "thickness": 2.4, "xOffset": -15},
   "encoding": {"x": {"field": "c", "type": "nominal", "title": null, "sort": null, "axis": {"ticks": true, "tickSize": 8, "tickColor": "#8c8c8c", "labelPadding": 5, "labelFontSize": 12.5, "labelColor": "#222", "labelAngle": 0, "labelBaseline": "top", "title": null}}, "y": {"field": "h", "type": "quantitative", "title": null, "axis": null}}},
  {"data": {"name": "med"}, "transform": [{"filter": "datum.p == 'IPSL-SSP126'"}],
   "mark": {"type": "tick", "color": "#000", "size": 30, "thickness": 2.4, "xOffset": 15},
   "encoding": {"x": {"field": "c", "type": "nominal", "title": null, "sort": null, "axis": {"ticks": true, "tickSize": 8, "tickColor": "#8c8c8c", "labelPadding": 5, "labelFontSize": 12.5, "labelColor": "#222", "labelAngle": 0, "labelBaseline": "top", "title": null}}, "y": {"field": "cl", "type": "quantitative", "title": null, "axis": null}}}
 ],
 "resolve": {"scale": {"xOffset": "independent"}, "axis": {"y": "independent"}}
},
{
 "width": 586, "height": 194,
 "title": {"text": "IPSL-SSP370"},
 "layer": [
  {"data": {"name": "ref"}, "transform": [{"filter": "datum.p == 'IPSL-SSP370'"}],
   "mark": {"type": "rule", "color": "#a0a0a0", "strokeWidth": 0.8, "strokeDash": [1.5, 1.5]},
   "encoding": {"y": {"field": "y", "type": "quantitative", "title": null, "scale": {"domain": [-5200, 200], "nice": false, "zero": false},
     "axis": {"orient": "left", "values": [0, -1000, -3000, -5000], "labelExpr": "'' + datum.value", "labelOverlap": false, "labelAngle": 270, "labelAlign": "center", "labelBaseline": "alphabetic", "labelPadding": 4.5, "title": null}}}},
  {"data": {"name": "i370h"}, "mark": {"type": "line", "stroke": "#0b6a9a", "strokeWidth": 0.6},
   "encoding": {"x": {"field": "c", "type": "nominal", "title": null, "sort": null, "scale": {"type": "point", "padding": 0.86, "domain": ["BZ","CO","CR","SV","GT","HN","MX","NI","PA"]}, "axis": {"ticks": true, "tickSize": 8, "tickColor": "#8c8c8c", "labelPadding": 5, "labelFontSize": 12.5, "labelColor": "#222", "labelAngle": 0, "labelBaseline": "top", "title": null}},
     "xOffset": {"field": "w", "type": "quantitative", "scale": {"domain": [0, 1], "range": [0, -30]}},
     "y": {"field": "y", "type": "quantitative", "title": null, "axis": {"orient": "left", "values": [-2000, -4000], "labels": false, "title": null, "tickSize": 8}},
     "order": {"field": "y", "type": "quantitative"},
     "detail": {"field": "c", "type": "nominal"},
     "fill": {"datum": "Habitat", "type": "nominal"}}},
  {"data": {"name": "i370c"}, "mark": {"type": "line", "stroke": "#d8a04f", "strokeWidth": 0.6},
   "encoding": {"x": {"field": "c", "type": "nominal", "title": null, "sort": null, "scale": {"type": "point", "padding": 0.86, "domain": ["BZ","CO","CR","SV","GT","HN","MX","NI","PA"]}, "axis": {"ticks": true, "tickSize": 8, "tickColor": "#8c8c8c", "labelPadding": 5, "labelFontSize": 12.5, "labelColor": "#222", "labelAngle": 0, "labelBaseline": "top", "title": null}},
     "xOffset": {"field": "w", "type": "quantitative", "scale": {"domain": [0, 1], "range": [0, 30]}},
     "y": {"field": "y", "type": "quantitative", "title": null, "axis": null},
     "order": {"field": "y", "type": "quantitative"},
     "detail": {"field": "c", "type": "nominal"},
     "fill": {"datum": "Climate regulation", "type": "nominal"}}},
  {"data": {"name": "med"}, "transform": [{"filter": "datum.p == 'IPSL-SSP370'"}],
   "mark": {"type": "tick", "color": "#000", "size": 30, "thickness": 2.4, "xOffset": -15},
   "encoding": {"x": {"field": "c", "type": "nominal", "title": null, "sort": null, "axis": {"ticks": true, "tickSize": 8, "tickColor": "#8c8c8c", "labelPadding": 5, "labelFontSize": 12.5, "labelColor": "#222", "labelAngle": 0, "labelBaseline": "top", "title": null}}, "y": {"field": "h", "type": "quantitative", "title": null, "axis": null}}},
  {"data": {"name": "med"}, "transform": [{"filter": "datum.p == 'IPSL-SSP370'"}],
   "mark": {"type": "tick", "color": "#000", "size": 30, "thickness": 2.4, "xOffset": 15},
   "encoding": {"x": {"field": "c", "type": "nominal", "title": null, "sort": null, "axis": {"ticks": true, "tickSize": 8, "tickColor": "#8c8c8c", "labelPadding": 5, "labelFontSize": 12.5, "labelColor": "#222", "labelAngle": 0, "labelBaseline": "top", "title": null}}, "y": {"field": "cl", "type": "quantitative", "title": null, "axis": null}}}
 ],
 "resolve": {"scale": {"xOffset": "independent"}, "axis": {"y": "independent"}}
},
{
 "width": 585, "height": 45, "view": {"stroke": null},
 "data": {"name": "aff"}, "transform": [{"filter": "datum.p == 'IPSL-SSP126'"}],
 "encoding": {"x": {"field": "c", "type": "nominal", "title": null, "sort": null, "axis": null, "scale": {"type": "point", "padding": 0.86, "domain": ["BZ","CO","CR","SV","GT","HN","MX","NI","PA"]}},
  "y": {"datum": "Affected area", "type": "nominal", "scale": {"type": "point", "padding": 0, "align": 0.193},
   "axis": {"title": null, "domain": false, "ticks": false, "tickSize": 0, "labelExpr": "split(datum.label, ' ')", "labelAlign": "center", "labelBaseline": "middle", "labelAngle": 0, "labelPadding": 4.5, "labelFontSize": 10.5, "labelColor": "#333", "labelLineHeight": 12}}},
 "layer": [
  {"mark": {"type": "text", "align": "right", "dx": -1.4, "fontSize": 10.5, "color": "#2b80b8"}, "encoding": {"text": {"field": "h"}}},
  {"mark": {"type": "text", "align": "center", "fontSize": 10.5, "color": "#5b8fb3", "text": "|"}},
  {"mark": {"type": "text", "align": "left", "dx": 1.4, "fontSize": 10.5, "color": "#dba352"}, "encoding": {"text": {"field": "cl"}}}
 ]
},
{
 "width": 586, "height": 45, "view": {"stroke": null},
 "data": {"name": "aff"}, "transform": [{"filter": "datum.p == 'IPSL-SSP370'"}],
 "encoding": {"x": {"field": "c", "type": "nominal", "title": null, "sort": null, "axis": null, "scale": {"type": "point", "padding": 0.86, "domain": ["BZ","CO","CR","SV","GT","HN","MX","NI","PA"]}},
  "y": {"datum": "Affected area", "type": "nominal", "scale": {"type": "point", "padding": 0, "align": 0.193},
   "axis": {"title": null, "domain": false, "ticks": false, "tickSize": 0, "labelExpr": "split(datum.label, ' ')", "labelAlign": "center", "labelBaseline": "middle", "labelAngle": 0, "labelPadding": 4.5, "labelFontSize": 10.5, "labelColor": "#333", "labelLineHeight": 12}}},
 "layer": [
  {"mark": {"type": "text", "align": "right", "dx": -1.4, "fontSize": 10.5, "color": "#2b80b8"}, "encoding": {"text": {"field": "h"}}},
  {"mark": {"type": "text", "align": "center", "fontSize": 10.5, "color": "#5b8fb3", "text": "|"}},
  {"mark": {"type": "text", "align": "left", "dx": 1.4, "fontSize": 10.5, "color": "#dba352"}, "encoding": {"text": {"field": "cl"}}}
 ]
}
]
}
